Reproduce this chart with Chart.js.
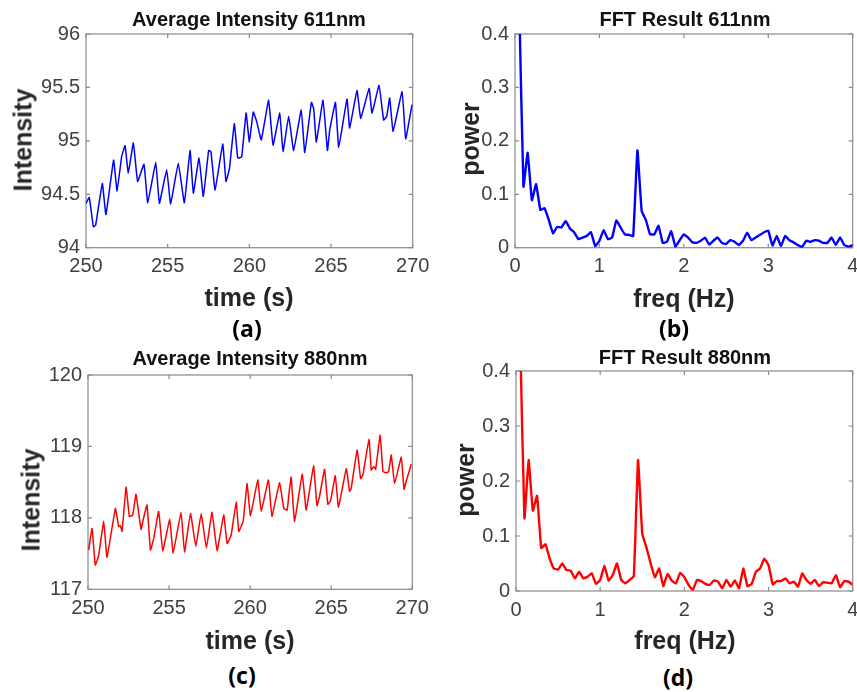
<!DOCTYPE html>
<html>
<head>
<meta charset="utf-8">
<script src="https://cdn.jsdelivr.net/npm/chart.js@4.4.1/dist/chart.umd.min.js"></script>
<style>
  body { margin: 0; background: #fff; }
  #page { position: relative; width: 857px; height: 692px; overflow: hidden; }
  canvas { position: absolute; }
  .txt { position: absolute; white-space: nowrap; line-height: 1; transform: translate(-50%, -50%); }
  .title { font: bold 20px "Liberation Sans", Arial, sans-serif; color: #111; }
  .axis { font: bold 25px "Liberation Sans", Arial, sans-serif; color: #262626; }
  .rot { transform: translate(-50%, -50%) rotate(-90deg); }
  .tag { font: bold 23px "Open Sans", sans-serif; color: #000; }
</style>
</head>
<body>
<div id="page">
  <canvas id="chartA"></canvas>
  <canvas id="chartB"></canvas>
  <canvas id="chartC"></canvas>
  <canvas id="chartD"></canvas>

  <div class="txt title" style="left:249px;top:19px">Average Intensity 611nm</div>
  <div class="txt title" style="left:685px;top:19px">FFT Result 611nm</div>
  <div class="txt title" style="left:250px;top:358px">Average Intensity 880nm</div>
  <div class="txt title" style="left:685px;top:357px">FFT Result 880nm</div>

  <div class="txt axis" style="left:249px;top:297px">time (s)</div>
  <div class="txt axis" style="left:684px;top:298px">freq (Hz)</div>
  <div class="txt axis" style="left:250px;top:640px">time (s)</div>
  <div class="txt axis" style="left:685px;top:640px">freq (Hz)</div>

  <div class="txt axis rot" style="left:23px;top:140px">Intensity</div>
  <div class="txt axis rot" style="left:470px;top:139px">power</div>
  <div class="txt axis rot" style="left:31px;top:500px">Intensity</div>
  <div class="txt axis rot" style="left:465px;top:480px">power</div>

  <div class="txt tag" style="left:247px;top:328px">(a)</div>
  <div class="txt tag" style="left:674px;top:328px">(b)</div>
  <div class="txt tag" style="left:242px;top:675px">(c)</div>
  <div class="txt tag" style="left:678px;top:677px">(d)</div>
</div>
<script>
// (a) average intensity at 611nm
const timeA = [250.00, 250.20, 250.45, 250.59, 251.00, 251.22, 251.69, 251.90, 252.18, 252.39,
  252.59, 252.90, 253.16, 253.55, 253.78, 254.27, 254.49, 254.94, 255.18, 255.65,
  256.02, 256.37, 256.57, 256.92, 257.18, 257.51, 257.65, 257.90, 258.37, 258.57,
  258.78, 259.08, 259.29, 259.53, 259.80, 260.00, 260.24, 260.45, 260.73, 261.18,
  261.45, 261.86, 262.06, 262.41, 262.71, 263.18, 263.39, 263.80, 263.94, 264.10,
  264.51, 264.78, 264.92, 265.27, 265.47, 265.98, 266.14, 266.59, 266.82, 267.33,
  267.51, 267.94, 268.22, 268.41, 268.59, 268.80, 269.35, 269.57, 269.96];
const intensityA = [94.415, 94.47, 94.197, 94.21, 94.60, 94.31, 94.82, 94.53, 94.85, 94.955,
  94.70, 94.98, 94.62, 94.78, 94.42, 94.80, 94.415, 94.73, 94.41, 94.79,
  94.42, 94.91, 94.51, 94.84, 94.48, 94.91, 94.90, 94.54, 94.97, 94.62,
  94.74, 95.16, 94.84, 94.85, 95.26, 94.99, 95.27, 95.18, 95.01, 95.38,
  94.96, 95.26, 94.90, 95.23, 94.91, 95.29, 94.89, 95.36, 95.30, 94.99,
  95.38, 94.91, 95.10, 95.36, 94.94, 95.39, 95.12, 95.47, 95.21, 95.49,
  95.26, 95.52, 95.195, 95.23, 95.40, 95.09, 95.46, 95.02, 95.34];

// (c) average intensity at 880nm
const timeC = [250.04, 250.25, 250.45, 250.66, 250.97, 251.17, 251.69, 251.89, 252.00, 252.10,
  252.35, 252.55, 252.76, 252.96, 253.27, 253.40, 253.64, 253.85, 254.05, 254.36,
  254.61, 255.04, 255.25, 255.74, 255.95, 256.32, 256.65, 256.98, 257.30, 257.65,
  257.96, 258.37, 258.58, 258.83, 259.14, 259.30, 259.57, 259.81, 260.02, 260.47,
  260.68, 261.13, 261.34, 261.81, 262.08, 262.28, 262.41, 262.53, 262.74, 263.21,
  263.46, 263.91, 264.12, 264.28, 264.59, 264.79, 264.96, 265.25, 265.45, 265.93,
  266.13, 266.23, 266.60, 266.81, 266.95, 267.33, 267.47, 267.63, 267.74, 268.02,
  268.19, 268.40, 268.54, 268.70, 268.91, 269.32, 269.49, 269.63, 269.94];
const intensityC = [117.55, 117.85, 117.34, 117.48, 117.95, 117.45, 118.13, 117.88, 117.89, 117.81,
  118.43, 118.02, 118.04, 118.33, 117.84, 117.97, 118.18, 117.55, 117.71, 118.09,
  117.54, 117.98, 117.51, 118.08, 117.52, 118.06, 117.60, 118.06, 117.58, 118.08,
  117.54, 118.04, 117.64, 117.76, 118.22, 117.81, 117.95, 118.48, 118.03, 118.53,
  118.09, 118.53, 118.02, 118.49, 118.13, 118.11, 118.37, 118.57, 117.95, 118.61,
  118.11, 118.73, 118.17, 118.30, 118.68, 118.19, 118.24, 118.59, 118.15, 118.69,
  118.37, 118.41, 118.95, 118.55, 118.60, 119.10, 118.67, 118.72, 118.68, 119.16,
  118.65, 118.63, 118.65, 118.88, 118.48, 118.85, 118.40, 118.52, 118.75];

// FFT frequency bins (Hz), shared by (b) and (d)
const freq = [0.05, 0.10, 0.15, 0.20, 0.25, 0.30, 0.35, 0.40, 0.45, 0.50,
  0.55, 0.60, 0.65, 0.70, 0.75, 0.80, 0.85, 0.90, 0.95, 1.00,
  1.05, 1.10, 1.15, 1.20, 1.25, 1.30, 1.35, 1.40, 1.45, 1.50,
  1.55, 1.60, 1.65, 1.70, 1.75, 1.80, 1.85, 1.90, 1.95, 2.00,
  2.05, 2.10, 2.15, 2.20, 2.25, 2.30, 2.35, 2.40, 2.45, 2.50,
  2.55, 2.60, 2.65, 2.70, 2.75, 2.80, 2.85, 2.90, 2.95, 3.00,
  3.05, 3.10, 3.15, 3.20, 3.25, 3.30, 3.35, 3.40, 3.45, 3.50,
  3.55, 3.60, 3.65, 3.70, 3.75, 3.80, 3.85, 3.90, 3.95, 4.00];
const powerB = [0.46, 0.114, 0.178, 0.089, 0.119, 0.071, 0.074, 0.052, 0.027, 0.039,
  0.038, 0.050, 0.036, 0.029, 0.016, 0.019, 0.022, 0.029, 0.003, 0.013,
  0.033, 0.016, 0.019, 0.051, 0.038, 0.025, 0.024, 0.022, 0.182, 0.069,
  0.052, 0.025, 0.025, 0.041, 0.009, 0.011, 0.031, 0.002, 0.014, 0.025,
  0.019, 0.010, 0.009, 0.013, 0.019, 0.006, 0.013, 0.019, 0.009, 0.007,
  0.014, 0.011, 0.005, 0.013, 0.028, 0.014, 0.019, 0.024, 0.029, 0.032,
  0.004, 0.022, 0.003, 0.022, 0.014, 0.010, 0.005, 0.001, 0.013, 0.011,
  0.014, 0.013, 0.009, 0.009, 0.019, 0.005, 0.019, 0.005, 0.002, 0.005];
const powerD = [0.46, 0.132, 0.238, 0.146, 0.173, 0.078, 0.085, 0.059, 0.041, 0.039,
  0.050, 0.038, 0.037, 0.023, 0.035, 0.023, 0.026, 0.032, 0.013, 0.020,
  0.046, 0.019, 0.029, 0.050, 0.020, 0.014, 0.020, 0.027, 0.238, 0.104,
  0.079, 0.050, 0.025, 0.041, 0.009, 0.031, 0.019, 0.014, 0.033, 0.025,
  0.011, 0.002, 0.020, 0.018, 0.013, 0.011, 0.019, 0.017, 0.005, 0.020,
  0.008, 0.019, 0.005, 0.041, 0.009, 0.013, 0.035, 0.041, 0.059, 0.047,
  0.012, 0.018, 0.018, 0.023, 0.014, 0.017, 0.008, 0.032, 0.020, 0.013,
  0.020, 0.009, 0.016, 0.015, 0.014, 0.029, 0.007, 0.018, 0.017, 0.011];

// MATLAB-style box: grey frame with short inward ticks on all four sides
const boxFrame = {
  id: 'boxFrame',
  beforeDatasetsDraw(chart) {
    const { ctx, chartArea: a, scales: { x, y } } = chart;
    const len = 4;
    ctx.save();
    ctx.strokeStyle = '#8a8a8a';
    ctx.lineWidth = 1.2;
    ctx.strokeRect(a.left, a.top, a.right - a.left, a.bottom - a.top);
    ctx.beginPath();
    x.ticks.forEach(t => {
      const px = x.getPixelForValue(t.value);
      ctx.moveTo(px, a.bottom); ctx.lineTo(px, a.bottom - len);
      ctx.moveTo(px, a.top); ctx.lineTo(px, a.top + len);
    });
    y.ticks.forEach(t => {
      const py = y.getPixelForValue(t.value);
      ctx.moveTo(a.left, py); ctx.lineTo(a.left + len, py);
      ctx.moveTo(a.right, py); ctx.lineTo(a.right - len, py);
    });
    ctx.stroke();
    ctx.restore();
  }
};

const tickFont = { family: '"Liberation Sans", Arial, sans-serif', size: 20 };
const tickColor = '#404040';
const Y_AXIS_W = 60;  // room for the y tick labels (labels are clipped to the scale box)
const X_AXIS_H = 40;

// plain MATLAB-like tick text: 94, 94.5, 95 ... / 0, 0.1 ...
const fmtTick = value => String(Number(value.toFixed(3)));

function makePanel(id, canvasBox, plot, xs, ys, color, width, xRange, yRange) {
  const el = document.getElementById(id);
  el.style.left = canvasBox[0] + 'px';
  el.style.top = canvasBox[1] + 'px';
  el.width = canvasBox[2];
  el.height = canvasBox[3];

  new Chart(el.getContext('2d'), {
    type: 'line',
    data: {
      datasets: [{
        data: xs.map((v, i) => ({ x: v, y: ys[i] })),
        borderColor: color,
        borderWidth: width,
        pointRadius: 0,
        tension: 0.1,
        fill: false,
      }],
    },
    options: {
      responsive: false,
      animation: false,
      events: [],
      layout: {
        padding: {
          left: plot[0] - canvasBox[0] - Y_AXIS_W,
          top: plot[1] - canvasBox[1],
          right: canvasBox[0] + canvasBox[2] - plot[2],
          bottom: canvasBox[1] + canvasBox[3] - plot[3] - X_AXIS_H,
        },
      },
      scales: {
        x: {
          type: 'linear',
          min: xRange[0], max: xRange[1],
          ticks: { stepSize: xRange[2], font: tickFont, color: tickColor, padding: 7, maxRotation: 0, autoSkip: false, callback: fmtTick },
          grid: { display: false, drawTicks: false },
          border: { display: false },
          afterFit(s) { s.height = X_AXIS_H; s.paddingLeft = 0; s.paddingRight = 0; },
        },
        y: {
          min: yRange[0], max: yRange[1],
          ticks: { stepSize: yRange[2], font: tickFont, color: tickColor, padding: 6, autoSkip: false, callback: fmtTick },
          grid: { display: false, drawTicks: false },
          border: { display: false },
          afterFit(s) { s.width = Y_AXIS_W; s.paddingTop = 0; s.paddingBottom = 0; },
        },
      },
      plugins: { legend: { display: false }, tooltip: { enabled: false }, title: { display: false } },
    },
    plugins: [boxFrame],
  });
}

makePanel('chartA', [0, 0, 430, 300], [86, 34, 412.7, 247.7], timeA, intensityA, '#0000ff', 1.5, [250, 270, 5], [94, 96, 0.5]);
makePanel('chartB', [430, 0, 427, 300], [515, 34, 852.7, 247.7], freq, powerB, '#0000ff', 2.4, [0, 4, 1], [0, 0.4, 0.1]);
makePanel('chartC', [0, 340, 430, 300], [88, 375, 412.3, 589.3], timeC, intensityC, '#ff0000', 1.5, [250, 270, 5], [117, 120, 1]);
makePanel('chartD', [430, 340, 427, 300], [516, 371, 852.7, 591], freq, powerD, '#ff0000', 2.4, [0, 4, 1], [0, 0.4, 0.1]);
</script>
</body>
</html>
